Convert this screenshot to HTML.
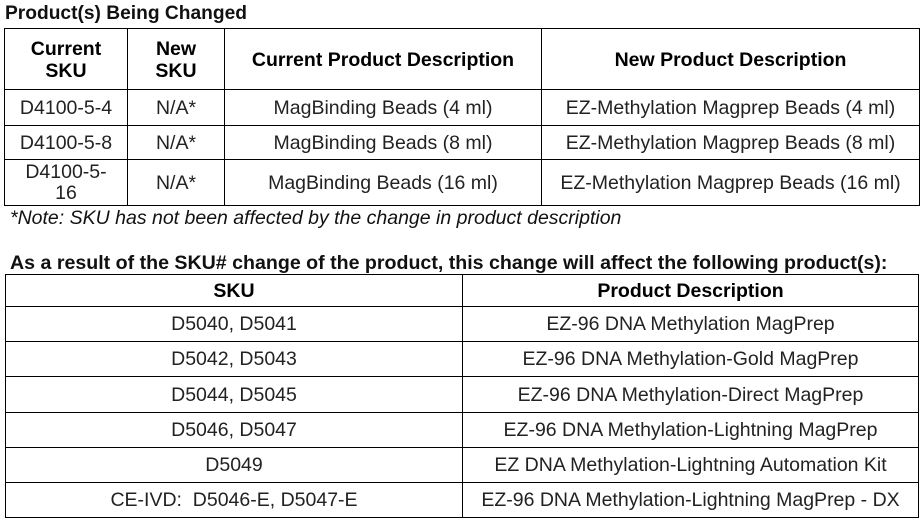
<!DOCTYPE html>
<html><head><meta charset="utf-8"><style>
body{margin:0;width:924px;height:521px;background:#fff;font-family:"Liberation Sans",Arial,sans-serif;color:#111;position:relative;overflow:hidden}
.t{position:absolute;font-weight:bold;font-size:19.2px;white-space:nowrap}
table{position:absolute;border-collapse:collapse;table-layout:fixed}
td{border:1.3px solid #000;text-align:center;vertical-align:middle;padding:1px 0 0 0;font-size:19.5px;line-height:21px;color:#222}
th{border:1.3px solid #000;text-align:center;vertical-align:middle;padding:1px 0 0 0;font-size:19.5px;line-height:22px;font-weight:bold;color:#000}
.note{position:absolute;left:10px;top:207px;font-style:italic;font-size:19.5px;color:#111;white-space:nowrap}
</style></head><body>
<div class="t" style="left:5px;top:3px">Product(s) Being Changed</div>
<table style="left:4px;top:28px;width:915px">
<colgroup><col style="width:123px"><col style="width:97px"><col style="width:317px"><col style="width:378px"></colgroup>
<tr style="height:61px"><th>Current<br>SKU</th><th>New<br>SKU</th><th>Current Product Description</th><th>New Product Description</th></tr>
<tr style="height:36px"><td>D4100-5-4</td><td>N/A*</td><td>MagBinding Beads (4 ml)</td><td>EZ-Methylation Magprep Beads (4 ml)</td></tr>
<tr style="height:34px"><td>D4100-5-8</td><td>N/A*</td><td>MagBinding Beads (8 ml)</td><td>EZ-Methylation Magprep Beads (8 ml)</td></tr>
<tr style="height:46px"><td>D4100-5-<br>16</td><td>N/A*</td><td>MagBinding Beads (16 ml)</td><td>EZ-Methylation Magprep Beads (16 ml)</td></tr>
</table>
<div class="note">*Note: SKU has not been affected by the change in product description</div>
<div class="t" style="left:10px;top:252px;font-size:19.6px">As a result of the SKU# change of the product, this change will affect the following product(s):</div>
<table style="left:5px;top:274px;width:913px">
<colgroup><col style="width:457px"><col style="width:456px"></colgroup>
<tr style="height:32px"><th>SKU</th><th>Product Description</th></tr>
<tr style="height:35px"><td>D5040, D5041</td><td>EZ-96 DNA Methylation MagPrep</td></tr>
<tr style="height:35px"><td>D5042, D5043</td><td>EZ-96 DNA Methylation-Gold MagPrep</td></tr>
<tr style="height:36px"><td>D5044, D5045</td><td>EZ-96 DNA Methylation-Direct MagPrep</td></tr>
<tr style="height:35px"><td>D5046, D5047</td><td>EZ-96 DNA Methylation-Lightning MagPrep</td></tr>
<tr style="height:35px"><td>D5049</td><td>EZ DNA Methylation-Lightning Automation Kit</td></tr>
<tr style="height:35px"><td>CE-IVD:&nbsp; D5046-E, D5047-E</td><td>EZ-96 DNA Methylation-Lightning MagPrep - DX</td></tr>
</table>
</body></html>
